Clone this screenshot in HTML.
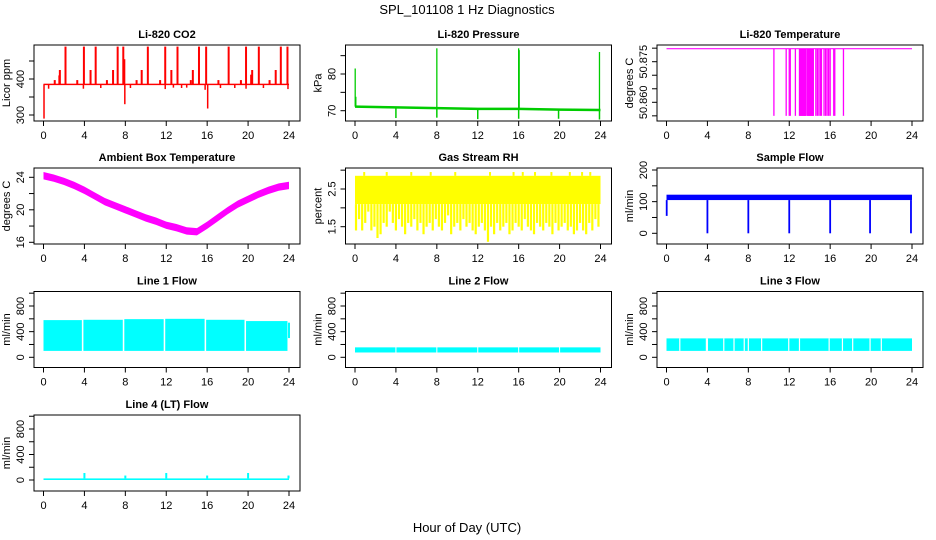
<!DOCTYPE html>
<html><head><meta charset="utf-8"><style>
html,body{margin:0;padding:0;background:#fff;}
svg{display:block;font-family:"Liberation Sans",Arial,sans-serif;}
.ttl{font-weight:bold;font-size:11px;}
.tk{font-size:11px;}
</style></head><body>
<svg id="c" width="936" height="540" viewBox="0 0 936 540" xmlns="http://www.w3.org/2000/svg">
<text x="467" y="14" text-anchor="middle" font-size="13">SPL_101108  1 Hz Diagnostics</text>
<text x="467" y="532" text-anchor="middle" font-size="13">Hour of Day (UTC)</text>
</svg>
<script>
// ---- data ----
const xTicks=[0,4,8,12,16,20,24];
// CO2
const co2Base=385;
const co2UpHours=[2.15,3.95,5.1,7.25,7.8,10.2,11.9,13.1,15.2,15.9,18.1,19.8,21.05,23.2,23.85,1.6,4.6,6.8,9.6,12.5,14.6,20.4,22.7,7.9,1.1,3.3,6.2,9.1,11.4,14.4,17.1,19.3,22.1,1.55,20.3];
const co2UpVals=[490,490,490,490,490,490,490,490,490,490,490,490,490,490,490,425,425,425,425,425,425,425,425,455,397,397,397,397,397,397,397,397,397,410,412];
const co2DownHours=[0.05,7.95,16.05,0.5,3.9,8.5,11.9,13.5,15.8,17.3,18.7,19.8,21.5,23.9,5.6,12.7,14.0];
const co2DownVals=[290,330,318,373,373,375,372,375,370,375,375,373,375,372,375,376,376];
// Pressure
const presHours=[0,4,8,12,16,20,24];
const presVals=[71.1,70.9,70.7,70.5,70.5,70.3,70.2];
const presUpHours=[0.02,0.08,8,16,16.05,23.9];
const presUpVals=[81.5,73.8,87,87,86.5,86];
const presDownHours=[4,8,12,16,19.9,23.9];
const presDownVals=[68,68.1,67.7,67.8,67.8,67.6];
// Li-820 temperature
const tempBase=50.8798;
const tempDropHours=[10.5,11.7,12.0,12.1,12.6,13.0,13.1,13.2,13.3,13.4,13.5,13.6,13.75,13.85,13.95,14.05,14.15,14.25,14.35,14.6,14.75,14.9,15.05,15.15,15.4,15.55,15.7,15.85,16.0,16.35,16.45,17.3];
const tempDropVals=tempDropHours.map(()=>50.855);
// Ambient box temperature
const ambHours=[0,1,2,3,4,5,6,7,8,9,10,11,12,13,14,15,16,17,18,19,20,21,22,23,24];
const ambVals=[24.2,23.9,23.5,23.0,22.4,21.7,21.0,20.5,20.0,19.5,19.0,18.6,18.1,17.8,17.4,17.3,18.1,19.0,19.9,20.7,21.3,21.9,22.4,22.8,23.0];
// Gas stream RH
const rhTop=2.85;
const rhFloor=2.1;
const rhLowHours=[0.1,0.4,0.7,1.0,1.3,1.6,1.9,2.2,2.5,2.8,3.1,3.4,3.7,4.0,4.3,4.6,4.9,5.2,5.5,5.8,6.1,6.4,6.7,7.0,7.3,7.6,7.9,8.2,8.5,8.8,9.1,9.4,9.7,10.0,10.3,10.6,10.9,11.2,11.5,11.8,12.1,12.4,12.7,13.0,13.3,13.6,13.9,14.2,14.5,14.8,15.1,15.4,15.7,16.0,16.3,16.6,16.9,17.2,17.5,17.8,18.1,18.4,18.7,19.0,19.3,19.6,19.9,20.2,20.5,20.8,21.1,21.4,21.7,22.0,22.3,22.6,22.9,23.2,23.5,23.8];
const rhLowVals=[1.4,1.7,1.4,1.6,1.9,1.4,1.5,1.2,1.3,1.6,1.5,1.9,1.6,1.4,1.7,1.5,1.3,1.6,1.5,1.7,1.4,1.6,1.3,1.5,1.6,1.4,1.7,1.5,1.4,1.6,1.8,1.3,1.5,1.6,1.4,1.7,1.5,1.6,1.4,1.3,1.5,1.6,1.4,1.1,1.5,1.3,1.6,1.4,1.5,1.6,1.3,1.4,1.6,1.5,1.4,1.7,1.5,1.4,1.3,1.6,1.5,1.4,1.6,1.5,1.3,1.6,1.4,1.5,1.6,1.4,1.5,1.3,1.4,1.6,1.4,1.3,1.6,1.4,1.7,1.5];
const rhHighHours=[0.9,3.1,5.5,7.4,9.8,13.2,15.5,16.4,17.6,19.2,21.0,22.2,23.0];
const rhHighVals=[2.95,2.95,2.95,2.95,2.95,2.95,2.95,2.95,2.95,2.95,2.95,2.95,2.95];
// Sample flow
const sfLo=105, sfHi=122;
const sfDipHours=[0.02,4,8,12,16,19.9,23.9];
const sfDipVals=[55,0,0,0,0,0,0];
// Line 1 flow
const l1SegStart=[0,3.9,7.9,11.9,15.9,19.8];
const l1SegEnd=[3.75,7.75,11.75,15.75,19.65,23.85];
const l1SegTop=[580,585,595,600,585,565];
const l1Low=100;
// Line 2 flow
const l2SegStart=[0,4.05,8.05,12.05,16.05,20.05];
const l2SegEnd=[3.95,7.95,11.95,15.95,19.95,24];
const l2Top=[155,155,155,155,155,155];
const l2Low=75;
// Line 3 flow
const l3Lo=100, l3Hi=295;
const l3GapHours=[1.3,3.9,4.0,5.6,6.6,7.6,8.0,9.3,11.95,13.0,15.9,17.2,18.2,19.9,21.0];
// Line 4 flow
const l4Base=[0,25];
const l4SpikeHours=[4,8,12,16,20,23.95];
const l4SpikeVals=[110,70,110,70,110,70];

// ---- layout ----
const svg=document.getElementById('c');
const NS='http://www.w3.org/2000/svg';
const colL=[34,345.5,657], rowT=[45,168,291.5,415], PW=266, PH=76;
function mk(tag,attrs,parent){const e=document.createElementNS(NS,tag);for(const k in attrs)e.setAttribute(k,attrs[k]);(parent||svg).appendChild(e);return e;}
function panel(name,col,row,title,ylab,v0,p0,v1,p1,yt,ylabels){
  const L=colL[col],T=rowT[row];
  const g=mk('g',{});
  
  
  const xs=h=>L+9.5+h*(245.5/24);
  const ys=v=>T+p0+(v-v0)*(p1-p0)/(v1-v0);
  const plot=mk('g',{},g);
  
  
  const box=mk('rect',{x:L,y:T,width:PW,height:PH,fill:'none',stroke:'#000','stroke-width':1},g);
  
  
  const t=mk('text',{x:L+PW/2,y:T-7,'text-anchor':'middle',class:'ttl'},g);t.textContent=title;
  
  
  const xa=mk('g',{},g);
  
  
  xTicks.forEach(h=>{mk('line',{x1:xs(h),x2:xs(h),y1:T+PH,y2:T+PH+5,stroke:'#000'},xa);
    const l=mk('text',{x:xs(h),y:T+PH+18,'text-anchor':'middle',class:'tk'},xa);l.textContent=h;});
  const ya=mk('g',{},g);
  
  
  mk('line',{x1:L,x2:L,y1:ys(yt[0]),y2:ys(yt[yt.length-1]),stroke:'#000'},ya);
  yt.forEach(v=>mk('line',{x1:L-5,x2:L,y1:ys(v),y2:ys(v),stroke:'#000'},ya));
  ylabels.forEach(s=>{const y=ys(parseFloat(s));const l=mk('text',{x:L-10,y:y,'text-anchor':'middle',class:'tk',transform:`rotate(-90 ${L-10} ${y})`},ya);l.textContent=s;});
  const yl=mk('text',{x:L-24,y:T+PH/2,'text-anchor':'middle',class:'tk',transform:`rotate(-90 ${L-24} ${T+PH/2})`},g);yl.textContent=ylab;
  
  
  return {xs,ys,g:plot};
}
function vline(p,h,a,b,col,w){mk('line',{x1:p.xs(h),x2:p.xs(h),y1:p.ys(a),y2:p.ys(b),stroke:col,'stroke-width':w||1.5},p.g);}
function band(p,h0,h1,lo,hi,col){const x0=p.xs(h0),x1=p.xs(h1),y0=p.ys(hi),y1=p.ys(lo);mk('rect',{x:x0,y:y0,width:x1-x0,height:y1-y0,fill:col},p.g);}

// 1 CO2
let p=panel('co2-panel',0,0,'Li-820 CO2','Licor ppm',300,70,400,34,[300,350,400,450],['300','400']);
co2UpHours.forEach((h,i)=>vline(p,h,co2Base,co2UpVals[i],'#f00',2));
co2DownHours.forEach((h,i)=>vline(p,h,co2Base,co2DownVals[i],'#f00',1.5));
band(p,0,24,co2Base-2,co2Base+2,'#f00');
// 2 Pressure
p=panel('pressure-panel',1,0,'Li-820 Pressure','kPa',70,65.7,80,29,[70,75,80,85],['70','80']);
mk('polyline',{points:presHours.map((h,i)=>p.xs(h)+','+p.ys(presVals[i])).join(' '),fill:'none',stroke:'#0c0','stroke-width':2.5},p.g);
presUpHours.forEach((h,i)=>vline(p,h,presVals[Math.min(Math.round(h/4),6)],presUpVals[i],'#0c0',1.3));
presDownHours.forEach((h,i)=>vline(p,h,presVals[Math.min(Math.round(h/4),6)],presDownVals[i],'#0c0',1.5));
// 3 Li-820 Temperature
p=panel('li820-temperature-panel',2,0,'Li-820 Temperature','degrees C',50.86,57.3,50.875,16.7,[50.855,50.86,50.865,50.87,50.875,50.88],['50.860','50.875']);
band(p,0,24,tempBase-0.0002,tempBase+0.0002,'#f0f');
tempDropHours.forEach((h,i)=>vline(p,h,tempBase,tempDropVals[i],'#f0f',1.3));
band(p,13.0,13.65,50.855,tempBase,'#f0f');band(p,13.75,14.4,50.855,tempBase,'#f0f');
// 4 Ambient
p=panel('ambient-temperature-panel',0,1,'Ambient Box Temperature','degrees C',16,74.3,24,9.3,[16,18,20,22,24],['16','20','24']);
mk('polygon',{points:ambHours.map((h,i)=>p.xs(h)+','+p.ys(ambVals[i]+0.45)).concat(ambHours.slice().reverse().map((h,j)=>p.xs(h)+','+p.ys(ambVals[ambHours.length-1-j]-0.45))).join(' '),fill:'#f0f'},p.g);
// 5 RH
p=panel('gas-stream-rh-panel',1,1,'Gas Stream RH','percent',1.5,58.7,2.5,21,[1.5,2,2.5,3],['1.5','2.5']);
band(p,0,24,rhFloor,rhTop,'#ff0');
rhLowHours.forEach((h,i)=>vline(p,h,rhFloor,rhLowVals[i],'#ff0',2.2));
rhHighHours.forEach((h,i)=>vline(p,h,rhTop,rhHighVals[i],'#ff0',2));
// 6 Sample flow
p=panel('sample-flow-panel',2,1,'Sample Flow','ml/min',0,65.3,200,2,[0,50,100,150,200],['0','100','200']);
band(p,0,24,sfLo,sfHi,'#00f');
sfDipHours.forEach((h,i)=>vline(p,h,sfLo,sfDipVals[i],'#00f',1.8));
// 7 Line 1
p=panel('line1-flow-panel',0,2,'Line 1 Flow','ml/min',0,65.8,800,14.5,[0,200,400,600,800,1000],['0','400','800']);
l1SegStart.forEach((s,i)=>band(p,s,l1SegEnd[i],l1Low,l1SegTop[i],'#0ff'));
vline(p,24,300,540,'#0ff',2);
// 8 Line 2
p=panel('line2-flow-panel',1,2,'Line 2 Flow','ml/min',0,65.8,800,14.5,[0,200,400,600,800,1000],['0','400','800']);
l2SegStart.forEach((s,i)=>band(p,s,l2SegEnd[i],l2Low,l2Top[i],'#0ff'));
// 9 Line 3
p=panel('line3-flow-panel',2,2,'Line 3 Flow','ml/min',0,65.8,800,14.5,[0,200,400,600,800,1000],['0','400','800']);
band(p,0,24,l3Lo,l3Hi,'#0ff');
l3GapHours.forEach(h=>vline(p,h,l3Lo,l3Hi,'#fff',1.2));
// 10 Line 4
p=panel('line4-flow-panel',0,3,'Line 4 (LT) Flow','ml/min',0,65,800,14,[0,200,400,600,800,1000],['0','400','800']);
band(p,0,24,l4Base[0],l4Base[1],'#0ff');
l4SpikeHours.forEach((h,i)=>vline(p,h,l4Base[1],l4SpikeVals[i],'#0ff',2));
</script>
</body></html>
